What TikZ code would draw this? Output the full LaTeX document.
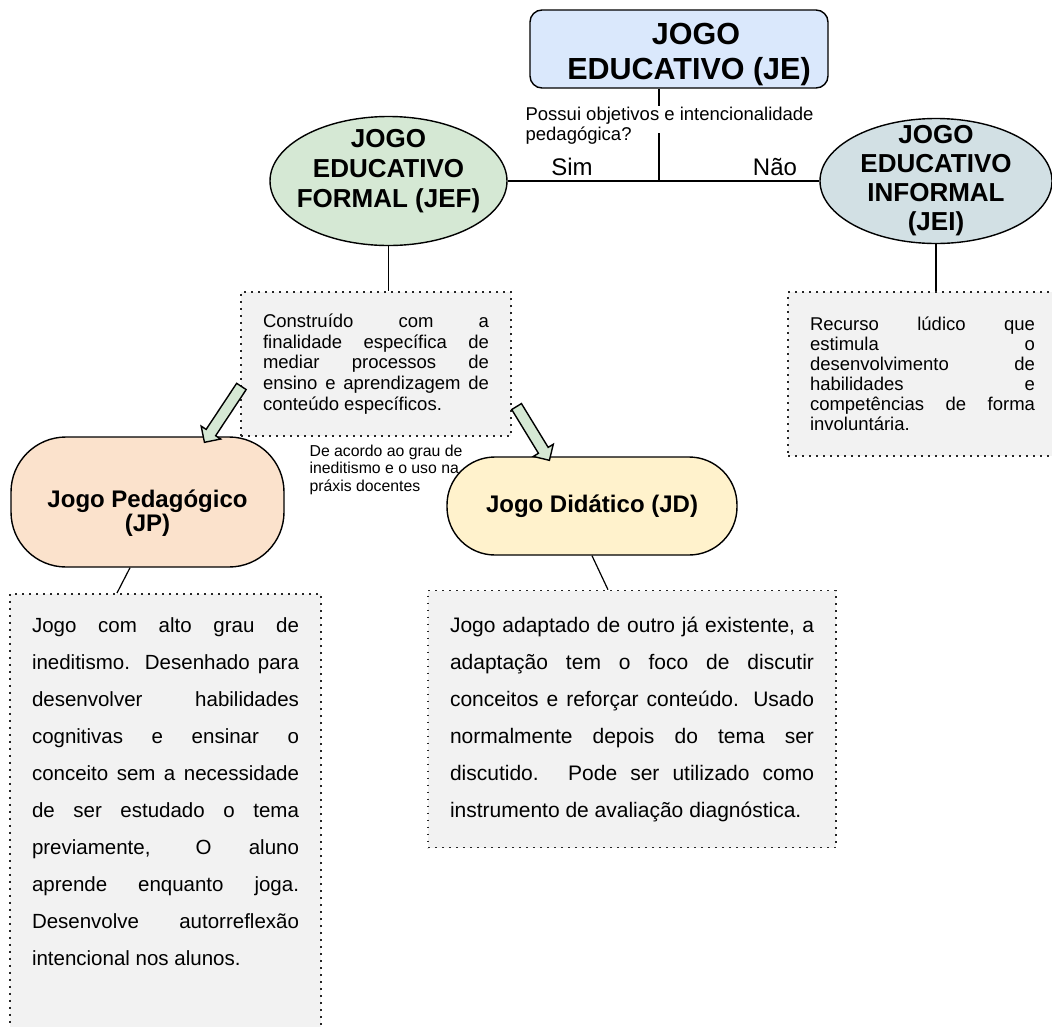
\documentclass[tikz,border=0pt]{standalone}
\usepackage{fontspec}
\setmainfont{Liberation Sans}
\usetikzlibrary{positioning,shapes.geometric,shapes.arrows,calc}
\definecolor{jeblue}{HTML}{DAE8FC}
\definecolor{jefgreen}{HTML}{D5E8D4}
\definecolor{jeiblue}{HTML}{D2E0E4}
\definecolor{jppeach}{HTML}{FBE2CC}
\definecolor{jdyellow}{HTML}{FFF2CC}
\definecolor{notegray}{HTML}{F2F2F2}
\tolerance=10000
\hyphenpenalty=10000
\tikzset{
  mybox/.style={draw,line width=1.4pt,align=center,inner sep=0pt},
  myoval/.style={mybox,ellipse,inner sep=-12pt,font=\bfseries\fontsize{26}{30}\selectfont},
  mypill/.style={mybox,rounded corners=#1,font=\bfseries\fontsize{24}{24}\selectfont},
  mynote/.style={draw=black!85,fill=notegray,line width=1.6pt,dash pattern=on 1.6pt off 5.4pt,align=justify,inner xsep=22pt,inner ysep=0pt},
  myarrow/.style={single arrow,draw,fill=jefgreen,line width=1.4pt,inner xsep=0pt,inner ysep=5pt,minimum width=22pt,single arrow head extend=6pt},
  mylabel/.style={inner sep=0pt,align=left,anchor=north west},
}

\begin{document}
\begin{tikzpicture}[x=1pt,y=-1pt,line width=1.2pt]
    \useasboundingbox (0,0) rectangle (1052,1026);
    \node[mypill=12pt,fill=jeblue,minimum width=298pt,minimum height=78pt,font=\bfseries\fontsize{30.5}{35}\selectfont] (je) at (679,49) {\rule{0pt}{32pt}\hspace*{34pt}JOGO\\\hspace*{20pt}EDUCATIVO (JE)};
    \node[myoval,fill=jefgreen,minimum width=237pt,minimum height=129pt] (jef) at (388.5,181) {JOGO\\EDUCATIVO\\FORMAL (JEF)\rule[-26pt]{0pt}{1pt}};
    \node[myoval,fill=jeiblue,minimum width=232pt,minimum height=125pt,font=\bfseries\fontsize{26}{29}\selectfont] (jei) at (936,181) {JOGO\\EDUCATIVO\\INFORMAL\\(JEI)};
    \node[mylabel,font=\fontsize{18.5}{20}\selectfont] (pergunta) at (525,106) {Possui objetivos e intencionalidade\\pedagógica?};
    \coordinate (juncao) at (659,181);
    \coordinate (retorno) at (659,133);
    \draw (je.south -| juncao) -- (juncao |- pergunta.north);
    \draw (retorno) -- (juncao);
    \draw (jef.east) -- (jei.west);
    \node[anchor=base,inner sep=0pt,font=\fontsize{24}{24}\selectfont] (sim) at (572,175) {Sim};
    \node[anchor=base,inner sep=0pt,font=\fontsize{24}{24}\selectfont] (nao) at (775,175) {Não};
    % descricoes de JEF e JEI
    \node[mynote,text width=226pt,minimum height=144pt,font=\fontsize{18.5}{20.8}\selectfont] (constr) at (376,364) {Construído com a\linebreak finalidade específica de\linebreak mediar processos de\linebreak ensino e aprendizagem de\linebreak conteúdo específicos.};
    \node[mynote,text width=225pt,minimum height=164pt,font=\fontsize{18.5}{20}\selectfont] (recurso) at (922.5,374) {Recurso lúdico que\linebreak estimula o\linebreak desenvolvimento de\linebreak habilidades e\linebreak competências de forma\linebreak involuntária.};
    \draw (jef.south) -- (jef.south |- constr.north);
    \draw (jei.south) -- (jei.south |- recurso.north);
    % tipos de JEF
    \node[mypill=55pt,fill=jppeach,minimum width=273pt,minimum height=130pt] (jp) at (147.5,502) {\rule{0pt}{40pt}Jogo Pedagógico\\(JP)};
    \node[mypill=48pt,fill=jdyellow,minimum width=290pt,minimum height=98pt] (jd) at (592,506) {Jogo Didático (JD)};
    \node[myarrow,rotate=236.5,minimum height=67pt] (setajp) at (224.5,412) {};
    \node[myarrow,rotate=301.4,minimum height=63pt] (setajd) at (531.5,431) {};
    \node[mylabel,font=\fontsize{15.8}{17.5}\selectfont] (criterio) at (309,444) {De acordo ao grau de\\ineditismo e o uso na\\práxis docentes};
    % descricoes de JP e JD
    \node[mynote,text width=267pt,anchor=north,inner ysep=24pt,font=\fontsize{20.5}{37}\selectfont] (jpdesc) at (165.5,593) {Jogo com alto grau de\linebreak ineditismo. Desenhado para\linebreak desenvolver habilidades\linebreak cognitivas e ensinar o\linebreak conceito sem a necessidade\linebreak de ser estudado o tema\linebreak previamente, O aluno\linebreak aprende enquanto joga.\linebreak Desenvolve autorreflexão\linebreak intencional nos alunos.\\\mbox{}\\\mbox{}};
    \node[mynote,text width=364pt,minimum height=257pt,font=\fontsize{21}{37}\selectfont] (jddesc) at (632,719) {Jogo adaptado de outro já existente, a\linebreak adaptação tem o foco de discutir\linebreak conceitos e reforçar conteúdo. Usado\linebreak normalmente depois do tema ser\linebreak discutido. Pode ser utilizado como\linebreak instrumento de avaliação diagnóstica.};
    \draw ([xshift=-17.5pt]jp.south) -- ([xshift=-48.5pt]jpdesc.north);
    \draw (jd.south) -- ([xshift=-24pt]jddesc.north);
\end{tikzpicture}
\end{document}
